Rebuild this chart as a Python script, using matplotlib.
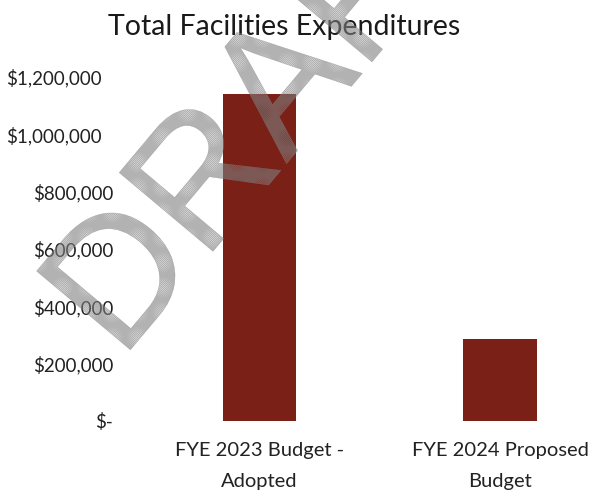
import matplotlib
matplotlib.use("Agg")
import matplotlib.pyplot as plt
from matplotlib.textpath import TextPath
from matplotlib.patches import PathPatch
from matplotlib.font_manager import FontProperties
from matplotlib import transforms

categories = ["FYE 2023 Budget -\nAdopted", "FYE 2024 Proposed\nBudget"]
expenditures = [1140000, 286000]
tick_values = [0, 200000, 400000, 600000, 800000, 1000000, 1200000]
tick_labels = ["$-", "$200,000", "$400,000", "$600,000", "$800,000",
               "$1,000,000", "$1,200,000"]

bar_color = "#7a2017"
font = "Lato"

W, H = 590, 496
fig = plt.figure(figsize=(W / 100, H / 100), dpi=100)
plt.rcParams["hatch.linewidth"] = 0.6

# axes placed in pixel terms: zero line at y=421, top tick at y=77
ax = fig.add_axes([120 / W, (H - 421) / H, 465 / W, 344 / H])
ax.bar(range(len(categories)), expenditures, width=0.307, color=bar_color,
       zorder=2)
ax.set_xlim(-0.579, 1.351)
ax.set_ylim(0, 1200000)

ax.set_yticks(tick_values)
ax.set_yticklabels(tick_labels, fontfamily=font, fontsize=13.5, color="#222222")
ax.set_xticks(range(len(categories)))
ax.set_xticklabels(categories, fontfamily=font, fontsize=14.5, color="#222222",
                   linespacing=2.0)
ax.tick_params(axis="y", length=0, pad=5)
ax.tick_params(axis="x", length=0, pad=15)

# the million labels sit a little further left
shift = transforms.ScaledTranslation(-11 / 100, 0, fig.dpi_scale_trans)
for val, lab in zip(tick_values, ax.get_yticklabels()):
    if val >= 1000000:
        lab.set_transform(lab.get_transform() + shift)

for s in ax.spines.values():
    s.set_visible(False)

fig.text(284 / W, (H - 27) / H, "Total Facilities Expenditures",
         fontfamily=font, fontsize=20.5, color="#1a1a1a", ha="center",
         va="center")

# DRAFT watermark, hatched letters running diagonally
tp = TextPath((0, 0), "DRAFT", size=178,
              prop=FontProperties(family="Liberation Sans"))
wm_tr = (transforms.Affine2D().rotate_deg(50).translate(121, 135)
         .scale(1 / fig.dpi) + fig.dpi_scale_trans)
wm = PathPatch(tp, transform=wm_tr, facecolor="none",
               edgecolor=(0.5, 0.5, 0.5, 0.6), linewidth=0.3,
               hatch="x" * 16, zorder=5)
fig.add_artist(wm)

fig.savefig("out.png", dpi=100)
